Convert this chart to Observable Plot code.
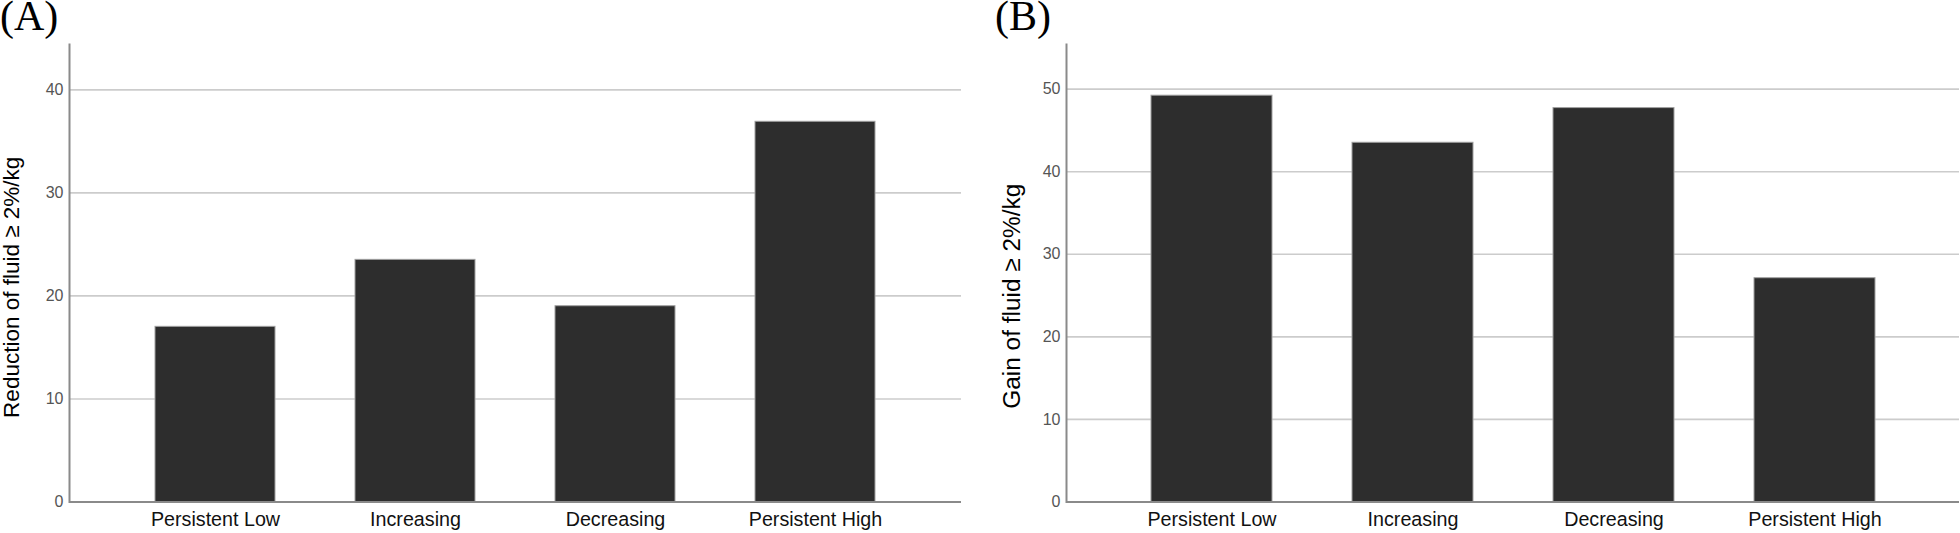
<!DOCTYPE html>
<html><head><meta charset="utf-8">
<script src="https://cdn.jsdelivr.net/npm/d3@7"></script>
<script src="https://cdn.jsdelivr.net/npm/@observablehq/plot@0.6"></script>
<style>
body{margin:0;background:#fff;}
#wrap{position:relative;width:1960px;height:533px;overflow:hidden;background:#fff;}
.panel{position:absolute;top:0;}
.tag{position:absolute;top:0px;line-height:0.8;font-family:"Liberation Serif","Times New Roman",serif;font-size:42px;color:#000;z-index:2;}
</style></head><body>
<div id="wrap">
 <div id="pa" class="panel" style="left:0"></div>
 <div id="pb" class="panel" style="left:980px"></div>
 <div class="tag" style="left:0px">(A)</div>
 <div class="tag" style="left:995px">(B)</div>
</div>
<script>
const categories = ["Persistent Low", "Increasing", "Decreasing", "Persistent High"];
const reductionValues = [17.0, 23.5, 19.0, 36.9];
const gainValues = [49.2, 43.5, 47.7, 27.1];
const reductionTicks = [0, 10, 20, 30, 40];
const gainTicks = [0, 10, 20, 30, 40, 50];
const reductionMax = 44.4;
const gainMax = 55.4;
const reductionLabel = "Reduction of fluid \u2265 2%/kg";
const gainLabel = "Gain of fluid \u2265 2%/kg";

function panel(values, ticks, yMax, label, opts) {
  const data = categories.map((c, i) => ({cat: c, val: values[i]}));
  return Plot.plot({
    width: 980, height: 533,
    marginTop: 44, marginBottom: 31.5, marginLeft: opts.mL, marginRight: opts.mR,
    style: {fontFamily: "'Liberation Sans', Arial, sans-serif", background: "transparent", overflow: "visible"},
    x: {domain: categories, paddingInner: 0.4, paddingOuter: 0.42, label: null},
    y: {domain: [0, yMax], label: null},
    marks: [
      Plot.ruleY(ticks.filter(t => t > 0), {stroke: "#cccccc", strokeWidth: 1.6}),
      Plot.barY(data, {x: "cat", y: "val", fill: "#2d2d2d", stroke: "#a0a0a0", strokeWidth: 1}),
      Plot.axisY(ticks, {tickSize: 0, tickPadding: 6, fontSize: 16, color: "#555", label: null}),
      Plot.axisX({tickSize: 0, tickPadding: 10, fontSize: 19.7, color: "#111", label: null}),
      Plot.text([label], {frameAnchor: "left", rotate: -90, dx: opts.ldx, dy: opts.ldy, textAnchor: "middle", lineAnchor: "top", fontSize: opts.lfs, fill: "#000"}),
      Plot.frame({anchor: "left", stroke: "#8a8a8a", strokeWidth: 2}),
      Plot.ruleY([0], {stroke: "#8a8a8a", strokeWidth: 2})
    ]
  });
}

document.getElementById("pa").append(
  panel(reductionValues, reductionTicks, reductionMax, reductionLabel, {mL: 69, mR: 19, ldx: -66, ldy: 14, lfs: 22.5})
);
document.getElementById("pb").append(
  panel(gainValues, gainTicks, gainMax, gainLabel, {mL: 86, mR: 1, ldx: -64, ldy: 23, lfs: 24.4})
);
</script>
</body></html>
